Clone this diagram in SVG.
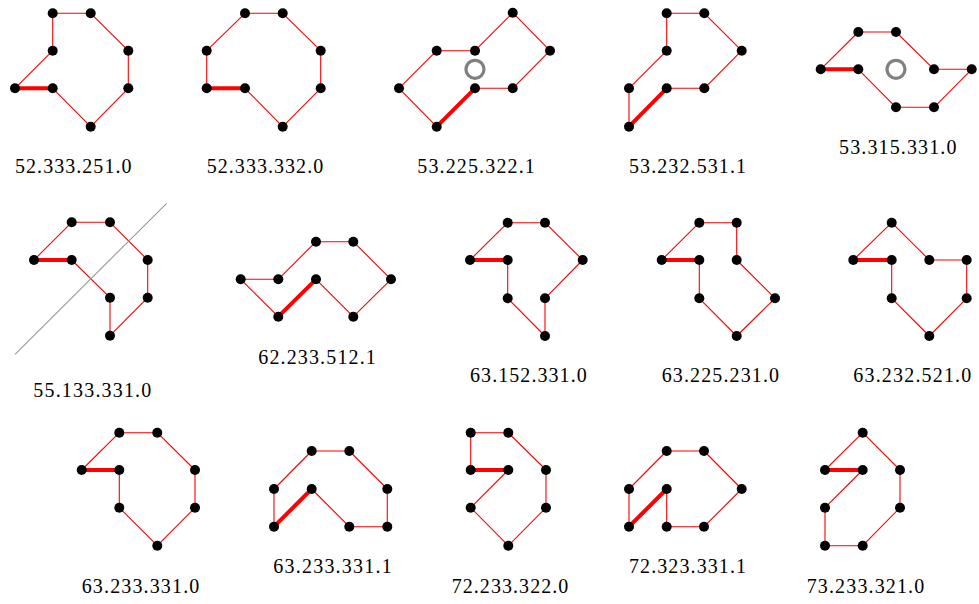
<svg xmlns="http://www.w3.org/2000/svg" width="979" height="604" viewBox="0 0 979 604">
<style>
.e{fill:none;stroke:#ff0000;stroke-width:1.1;stroke-linejoin:round}
.t{fill:none;stroke:#ff0000;stroke-width:4}
.n{fill:#000}
.c{fill:none;stroke:#808080;stroke-width:3.2}
.g{stroke:#999;stroke-width:1.1}
.l{font-family:"Liberation Serif","DejaVu Serif",serif;font-size:20px;fill:#000}
</style>
<rect width="979" height="604" fill="#fff"/>
<g id="connectors">
<polyline class="e" points="52.7,88.3 90.7,126.7 128.3,88.3 128.3,50.7 90.7,13.3 52.7,13.3 52.7,50.7 15,88.3"/>
<line class="t" x1="15" y1="88.3" x2="52.7" y2="88.3"/>
<polyline class="e" points="245,88.3 282.7,126.7 320.7,88.3 320.7,50.7 282.7,13.3 245,13.3 206.7,50.7 206.7,88.3"/>
<line class="t" x1="206.7" y1="88.3" x2="245" y2="88.3"/>
<polyline class="e" points="436.7,126.7 399,88.3 436.7,50.7 475,50.7 512.7,12.7 550,50.7 512.7,88.3 475,88.3"/>
<line class="t" x1="475" y1="88.3" x2="436.7" y2="126.7"/>
<polyline class="e" points="629,126.7 629,88.3 666.7,50.7 666.7,13.3 704.3,13.3 741.7,50.7 704.3,88.3 666.7,88.3"/>
<line class="t" x1="666.7" y1="88.3" x2="629" y2="126.7"/>
<polyline class="e" points="858.3,69.3 896,107.3 934,107.3 971.7,69.3 934,69.3 896,32 858.3,32 820.7,69.3"/>
<line class="t" x1="820.7" y1="69.3" x2="858.3" y2="69.3"/>
<polyline class="e" points="71.7,260 110,297.7 110,335.7 147.7,297.7 147.7,260 110,222.3 71.7,222.3 34,260"/>
<line class="t" x1="34" y1="260" x2="71.7" y2="260"/>
<polyline class="e" points="278.3,316.7 240.7,279.3 278.3,279.3 316,241.7 353.3,241.7 391,279.3 353.3,316.7 316,279.3"/>
<line class="t" x1="316" y1="279.3" x2="278.3" y2="316.7"/>
<polyline class="e" points="507.7,260 507.7,298.3 545,336 545,298.3 582.7,260 545,222.7 507.7,222.7 470,260"/>
<line class="t" x1="470" y1="260" x2="507.7" y2="260"/>
<polyline class="e" points="699.3,260 699.3,298.3 736.7,336 775,298.3 736.7,260 736.7,222.7 699.3,222.7 661.7,260"/>
<line class="t" x1="661.7" y1="260" x2="699.3" y2="260"/>
<polyline class="e" points="891.7,260 891.7,298.3 929.3,336 966.7,298.3 966.7,260 929.3,260 891.7,222.7 853.3,260"/>
<line class="t" x1="853.3" y1="260" x2="891.7" y2="260"/>
<polyline class="e" points="119.3,470 119.3,507.7 157.3,545.7 195,507.7 195,470 157.3,432.7 119.3,432.7 81.7,470"/>
<line class="t" x1="81.7" y1="470" x2="119.3" y2="470"/>
<polyline class="e" points="311.7,489 349.3,526.7 387.3,526.7 387.3,489 349.3,451 311.7,451 274,489 274,526.7"/>
<line class="t" x1="274" y1="526.7" x2="311.7" y2="489"/>
<polyline class="e" points="508.3,470 470.7,507.7 508.3,545.7 546,507.7 546,470 508.3,432.7 470.7,432.7 470.7,470"/>
<line class="t" x1="470.7" y1="470" x2="508.3" y2="470"/>
<polyline class="e" points="666.7,489 666.7,526.7 704,526.7 741.7,489 704,451 666.7,451 629,489 629,526.7"/>
<line class="t" x1="629" y1="526.7" x2="666.7" y2="489"/>
<polyline class="e" points="862.7,470 825,507.7 825,545.7 862.7,545.7 900,507.7 900,470 862.7,432.7 825,470"/>
<line class="t" x1="825" y1="470" x2="862.7" y2="470"/>
<line class="g" x1="15" y1="354.3" x2="166.7" y2="203.3"/>
</g>
<g id="p1">
<circle class="n" cx="15" cy="88.3" r="5"/><circle class="n" cx="52.7" cy="88.3" r="5"/><circle class="n" cx="90.7" cy="126.7" r="5"/><circle class="n" cx="128.3" cy="88.3" r="5"/><circle class="n" cx="128.3" cy="50.7" r="5"/><circle class="n" cx="90.7" cy="13.3" r="5"/><circle class="n" cx="52.7" cy="13.3" r="5"/><circle class="n" cx="52.7" cy="50.7" r="5"/>
<text class="l" x="15" y="172.5" textLength="116.5" lengthAdjust="spacing">52.333.251.0</text>
</g>
<g id="p2">
<circle class="n" cx="206.7" cy="88.3" r="5"/><circle class="n" cx="245" cy="88.3" r="5"/><circle class="n" cx="282.7" cy="126.7" r="5"/><circle class="n" cx="320.7" cy="88.3" r="5"/><circle class="n" cx="320.7" cy="50.7" r="5"/><circle class="n" cx="282.7" cy="13.3" r="5"/><circle class="n" cx="245" cy="13.3" r="5"/><circle class="n" cx="206.7" cy="50.7" r="5"/>
<text class="l" x="206.7" y="172.5" textLength="116.5" lengthAdjust="spacing">52.333.332.0</text>
</g>
<g id="p3">
<circle class="c" cx="475" cy="69.3" r="9"/>
<circle class="n" cx="475" cy="88.3" r="5"/><circle class="n" cx="436.7" cy="126.7" r="5"/><circle class="n" cx="399" cy="88.3" r="5"/><circle class="n" cx="436.7" cy="50.7" r="5"/><circle class="n" cx="475" cy="50.7" r="5"/><circle class="n" cx="512.7" cy="12.7" r="5"/><circle class="n" cx="550" cy="50.7" r="5"/><circle class="n" cx="512.7" cy="88.3" r="5"/>
<text class="l" x="417.3" y="172.5" textLength="117.5" lengthAdjust="spacing">53.225.322.1</text>
</g>
<g id="p4">
<circle class="n" cx="666.7" cy="88.3" r="5"/><circle class="n" cx="629" cy="126.7" r="5"/><circle class="n" cx="629" cy="88.3" r="5"/><circle class="n" cx="666.7" cy="50.7" r="5"/><circle class="n" cx="666.7" cy="13.3" r="5"/><circle class="n" cx="704.3" cy="13.3" r="5"/><circle class="n" cx="741.7" cy="50.7" r="5"/><circle class="n" cx="704.3" cy="88.3" r="5"/>
<text class="l" x="629" y="172.5" textLength="117" lengthAdjust="spacing">53.232.531.1</text>
</g>
<g id="p5">
<circle class="c" cx="896" cy="69.3" r="9"/>
<circle class="n" cx="820.7" cy="69.3" r="5"/><circle class="n" cx="858.3" cy="69.3" r="5"/><circle class="n" cx="896" cy="107.3" r="5"/><circle class="n" cx="934" cy="107.3" r="5"/><circle class="n" cx="971.7" cy="69.3" r="5"/><circle class="n" cx="934" cy="69.3" r="5"/><circle class="n" cx="896" cy="32" r="5"/><circle class="n" cx="858.3" cy="32" r="5"/>
<text class="l" x="839" y="153.8" textLength="117.5" lengthAdjust="spacing">53.315.331.0</text>
</g>
<g id="p6">
<circle class="n" cx="34" cy="260" r="5"/><circle class="n" cx="71.7" cy="260" r="5"/><circle class="n" cx="110" cy="297.7" r="5"/><circle class="n" cx="110" cy="335.7" r="5"/><circle class="n" cx="147.7" cy="297.7" r="5"/><circle class="n" cx="147.7" cy="260" r="5"/><circle class="n" cx="110" cy="222.3" r="5"/><circle class="n" cx="71.7" cy="222.3" r="5"/>
<text class="l" x="33.3" y="396.5" textLength="118" lengthAdjust="spacing">55.133.331.0</text>
</g>
<g id="p7">
<circle class="n" cx="316" cy="279.3" r="5"/><circle class="n" cx="278.3" cy="316.7" r="5"/><circle class="n" cx="240.7" cy="279.3" r="5"/><circle class="n" cx="278.3" cy="279.3" r="5"/><circle class="n" cx="316" cy="241.7" r="5"/><circle class="n" cx="353.3" cy="241.7" r="5"/><circle class="n" cx="391" cy="279.3" r="5"/><circle class="n" cx="353.3" cy="316.7" r="5"/>
<text class="l" x="258.3" y="363.8" textLength="117.5" lengthAdjust="spacing">62.233.512.1</text>
</g>
<g id="p8">
<circle class="n" cx="470" cy="260" r="5"/><circle class="n" cx="507.7" cy="260" r="5"/><circle class="n" cx="507.7" cy="298.3" r="5"/><circle class="n" cx="545" cy="336" r="5"/><circle class="n" cx="545" cy="298.3" r="5"/><circle class="n" cx="582.7" cy="260" r="5"/><circle class="n" cx="545" cy="222.7" r="5"/><circle class="n" cx="507.7" cy="222.7" r="5"/>
<text class="l" x="470" y="381.5" textLength="116.7" lengthAdjust="spacing">63.152.331.0</text>
</g>
<g id="p9">
<circle class="n" cx="661.7" cy="260" r="5"/><circle class="n" cx="699.3" cy="260" r="5"/><circle class="n" cx="699.3" cy="298.3" r="5"/><circle class="n" cx="736.7" cy="336" r="5"/><circle class="n" cx="775" cy="298.3" r="5"/><circle class="n" cx="736.7" cy="260" r="5"/><circle class="n" cx="736.7" cy="222.7" r="5"/><circle class="n" cx="699.3" cy="222.7" r="5"/>
<text class="l" x="661.7" y="381.5" textLength="117.3" lengthAdjust="spacing">63.225.231.0</text>
</g>
<g id="p10">
<circle class="n" cx="853.3" cy="260" r="5"/><circle class="n" cx="891.7" cy="260" r="5"/><circle class="n" cx="891.7" cy="298.3" r="5"/><circle class="n" cx="929.3" cy="336" r="5"/><circle class="n" cx="966.7" cy="298.3" r="5"/><circle class="n" cx="966.7" cy="260" r="5"/><circle class="n" cx="929.3" cy="260" r="5"/><circle class="n" cx="891.7" cy="222.7" r="5"/>
<text class="l" x="853.3" y="381.5" textLength="118" lengthAdjust="spacing">63.232.521.0</text>
</g>
<g id="p11">
<circle class="n" cx="81.7" cy="470" r="5"/><circle class="n" cx="119.3" cy="470" r="5"/><circle class="n" cx="119.3" cy="507.7" r="5"/><circle class="n" cx="157.3" cy="545.7" r="5"/><circle class="n" cx="195" cy="507.7" r="5"/><circle class="n" cx="195" cy="470" r="5"/><circle class="n" cx="157.3" cy="432.7" r="5"/><circle class="n" cx="119.3" cy="432.7" r="5"/>
<text class="l" x="81.7" y="592.5" textLength="117.6" lengthAdjust="spacing">63.233.331.0</text>
</g>
<g id="p12">
<circle class="n" cx="274" cy="526.7" r="5"/><circle class="n" cx="311.7" cy="489" r="5"/><circle class="n" cx="349.3" cy="526.7" r="5"/><circle class="n" cx="387.3" cy="526.7" r="5"/><circle class="n" cx="387.3" cy="489" r="5"/><circle class="n" cx="349.3" cy="451" r="5"/><circle class="n" cx="311.7" cy="451" r="5"/><circle class="n" cx="274" cy="489" r="5"/>
<text class="l" x="273.3" y="573.3" textLength="118.4" lengthAdjust="spacing">63.233.331.1</text>
</g>
<g id="p13">
<circle class="n" cx="470.7" cy="470" r="5"/><circle class="n" cx="508.3" cy="470" r="5"/><circle class="n" cx="470.7" cy="507.7" r="5"/><circle class="n" cx="508.3" cy="545.7" r="5"/><circle class="n" cx="546" cy="507.7" r="5"/><circle class="n" cx="546" cy="470" r="5"/><circle class="n" cx="508.3" cy="432.7" r="5"/><circle class="n" cx="470.7" cy="432.7" r="5"/>
<text class="l" x="451.7" y="592.5" textLength="116.6" lengthAdjust="spacing">72.233.322.0</text>
</g>
<g id="p14">
<circle class="n" cx="629" cy="526.7" r="5"/><circle class="n" cx="666.7" cy="489" r="5"/><circle class="n" cx="666.7" cy="526.7" r="5"/><circle class="n" cx="704" cy="526.7" r="5"/><circle class="n" cx="741.7" cy="489" r="5"/><circle class="n" cx="704" cy="451" r="5"/><circle class="n" cx="666.7" cy="451" r="5"/><circle class="n" cx="629" cy="489" r="5"/>
<text class="l" x="629" y="573.3" textLength="117" lengthAdjust="spacing">72.323.331.1</text>
</g>
<g id="p15">
<circle class="n" cx="825" cy="470" r="5"/><circle class="n" cx="862.7" cy="470" r="5"/><circle class="n" cx="825" cy="507.7" r="5"/><circle class="n" cx="825" cy="545.7" r="5"/><circle class="n" cx="862.7" cy="545.7" r="5"/><circle class="n" cx="900" cy="507.7" r="5"/><circle class="n" cx="900" cy="470" r="5"/><circle class="n" cx="862.7" cy="432.7" r="5"/>
<text class="l" x="806.7" y="592.5" textLength="117.5" lengthAdjust="spacing">73.233.321.0</text>
</g>
</svg>
